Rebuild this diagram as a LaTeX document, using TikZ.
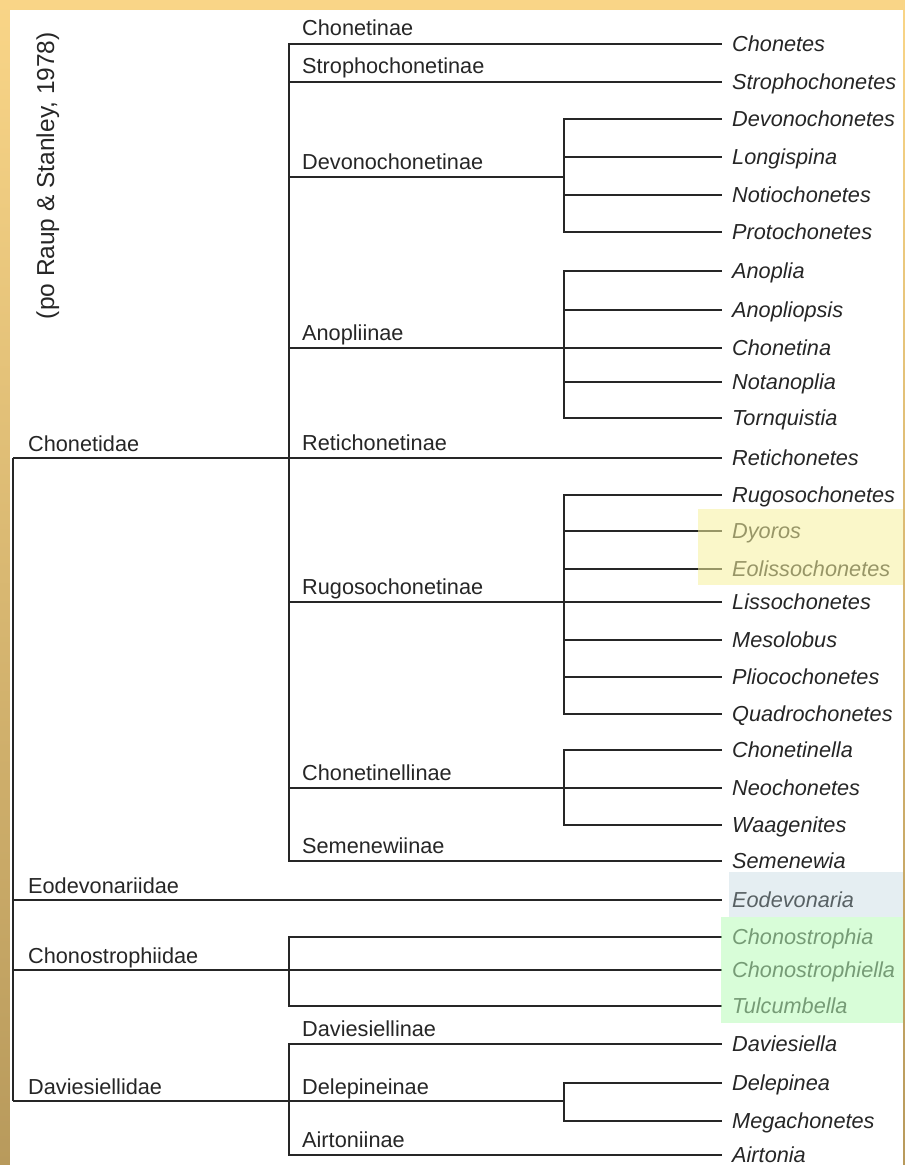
\documentclass[tikz,border=0pt]{standalone}
\usepackage{fontspec}
\setmainfont{Liberation Sans}
\usepackage{xcolor}
\definecolor{frametop}{HTML}{F9D587}
\definecolor{framebot}{HTML}{B89A5C}
\definecolor{ink}{HTML}{262626}
\definecolor{markyellow}{RGB}{246,242,158}
\definecolor{markblue}{RGB}{183,209,218}
\definecolor{markgreen}{RGB}{184,252,184}
\tikzset{
  branch/.style = {draw=ink, line width=1.4pt},
  taxon/.style = {anchor=base west, inner sep=0pt, text=ink,
    font=\fontsize{21.7}{26}\selectfont},
  genus/.style = {anchor=west, inner ysep=0pt, inner xsep=10pt,
    text height=15.5pt, text depth=0pt, text=ink,
    font=\fontsize{21.7}{26}\selectfont\itshape},
  marker/.style = {fill=#1, fill opacity=0.55, draw=none}
}

\begin{document}
\begin{tikzpicture}[x=1pt, y=-1pt]

  % frame
  \fill[top color=frametop, bottom color=framebot] (0,0) rectangle (905,1165);
  \fill[white] (10,10) rectangle (903,1165);
  \useasboundingbox (0,0) rectangle (905,1165);

  \node[rotate=90, anchor=base east, inner sep=0pt, text=ink,
    font=\fontsize{24.5}{28}\selectfont] (source) at (54,32)
    {(po Raup \& Stanley, 1978)};

  % genera
  \foreach \name/\y in {Chonetes/44, Strophochonetes/82,
      Devonochonetes/119, Longispina/157, Notiochonetes/195, Protochonetes/232,
      Anoplia/271, Anopliopsis/310, Chonetina/348, Notanoplia/382, Tornquistia/418,
      Retichonetes/458,
      Rugosochonetes/495, Dyoros/531, Eolissochonetes/569, Lissochonetes/602,
      Mesolobus/640, Pliocochonetes/677, Quadrochonetes/714,
      Chonetinella/750, Neochonetes/788, Waagenites/825,
      Semenewia/861, Eodevonaria/900,
      Chonostrophia/937, Chonostrophiella/970, Tulcumbella/1006,
      Daviesiella/1044, Delepinea/1083, Megachonetes/1121, Airtonia/1155}
    \node[genus] (\name) at (722,\y) {\name};

  % families
  \coordinate (root) at (13,458);
  \coordinate (eodev) at (13,900);
  \coordinate (chonostr) at (13,970);
  \coordinate (davies) at (13,1101);
  \draw[branch] (root) -- (davies);

  \coordinate (chonetidae) at (289,458);
  \coordinate (chonostrophiidae) at (289,970);
  \coordinate (daviesiellidae) at (289,1101);
  \draw[branch] (root) -- (chonetidae);
  \draw[branch] (chonostr) -- (chonostrophiidae);
  \draw[branch] (davies) -- (daviesiellidae);
  \draw[branch] (eodev) -- (Eodevonaria.west);

  \node[taxon, xshift=15pt, yshift=7pt] (l-chonetidae) at (root) {Chonetidae};
  \node[taxon, xshift=15pt, yshift=7pt] (l-eodev) at (eodev) {Eodevonariidae};
  \node[taxon, xshift=15pt, yshift=7pt] (l-chonostr) at (chonostr) {Chonostrophiidae};
  \node[taxon, xshift=15pt, yshift=7pt] (l-davies) at (davies) {Daviesiellidae};

  % subfamilies of Chonetidae
  \coordinate (devono) at (564,177);
  \coordinate (anopli) at (564,348);
  \coordinate (rugoso) at (564,602);
  \coordinate (chtinel) at (564,788);
  \draw[branch] (chonetidae) |- (Chonetes.west);
  \draw[branch] (chonetidae) |- (Strophochonetes.west);
  \draw[branch] (chonetidae) |- (devono);
  \draw[branch] (chonetidae) |- (anopli);
  \draw[branch] (chonetidae) -- (Retichonetes.west);
  \draw[branch] (chonetidae) |- (rugoso);
  \draw[branch] (chonetidae) |- (chtinel);
  \draw[branch] (chonetidae) |- (Semenewia.west);

  \foreach \g in {Devonochonetes, Longispina, Notiochonetes, Protochonetes}
    \draw[branch] (devono) |- (\g.west);
  \foreach \g in {Anoplia, Anopliopsis, Chonetina, Notanoplia, Tornquistia}
    \draw[branch] (anopli) |- (\g.west);
  \foreach \g in {Rugosochonetes, Dyoros, Eolissochonetes, Lissochonetes,
      Mesolobus, Pliocochonetes, Quadrochonetes}
    \draw[branch] (rugoso) |- (\g.west);
  \foreach \g in {Chonetinella, Neochonetes, Waagenites}
    \draw[branch] (chtinel) |- (\g.west);

  \node[taxon, xshift=13pt, yshift=9pt] (l-chonetinae) at (289,44) {Chonetinae};
  \node[taxon, xshift=13pt, yshift=9pt] (l-stropho) at (289,82) {Strophochonetinae};
  \node[taxon, xshift=13pt, yshift=8pt] (l-devono) at (289,177) {Devonochonetinae};
  \node[taxon, xshift=13pt, yshift=8pt] (l-anopli) at (289,348) {Anopliinae};
  \node[taxon, xshift=13pt, yshift=8pt] (l-reti) at (289,458) {Retichonetinae};
  \node[taxon, xshift=13pt, yshift=8pt] (l-rugoso) at (289,602) {Rugosochonetinae};
  \node[taxon, xshift=13pt, yshift=8pt] (l-chtinel) at (289,788) {Chonetinellinae};
  \node[taxon, xshift=13pt, yshift=8pt] (l-semen) at (289,861) {Semenewiinae};

  % Chonostrophiidae
  \foreach \g in {Chonostrophia, Chonostrophiella, Tulcumbella}
    \draw[branch] (chonostrophiidae) |- (\g.west);

  % subfamilies of Daviesiellidae
  \coordinate (delep) at (564,1101);
  \draw[branch] (daviesiellidae) |- (Daviesiella.west);
  \draw[branch] (daviesiellidae) -- (delep);
  \draw[branch] (daviesiellidae) |- (Airtonia.west);
  \foreach \g in {Delepinea, Megachonetes}
    \draw[branch] (delep) |- (\g.west);

  \node[taxon, xshift=13pt, yshift=8pt] (l-davsub) at (289,1044) {Daviesiellinae};
  \node[taxon, xshift=13pt, yshift=7pt] (l-delep) at (289,1101) {Delepineinae};
  \node[taxon, xshift=13pt, yshift=8pt] (l-airton) at (289,1155) {Airtoniinae};

  % highlighted genera
  \fill[marker=markyellow] (698,509) rectangle (903,585);
  \fill[marker=markblue, fill opacity=0.35] (729,872) rectangle (903,917);
  \fill[marker=markgreen] (721,917) rectangle (903,1023);

\end{tikzpicture}
\end{document}
